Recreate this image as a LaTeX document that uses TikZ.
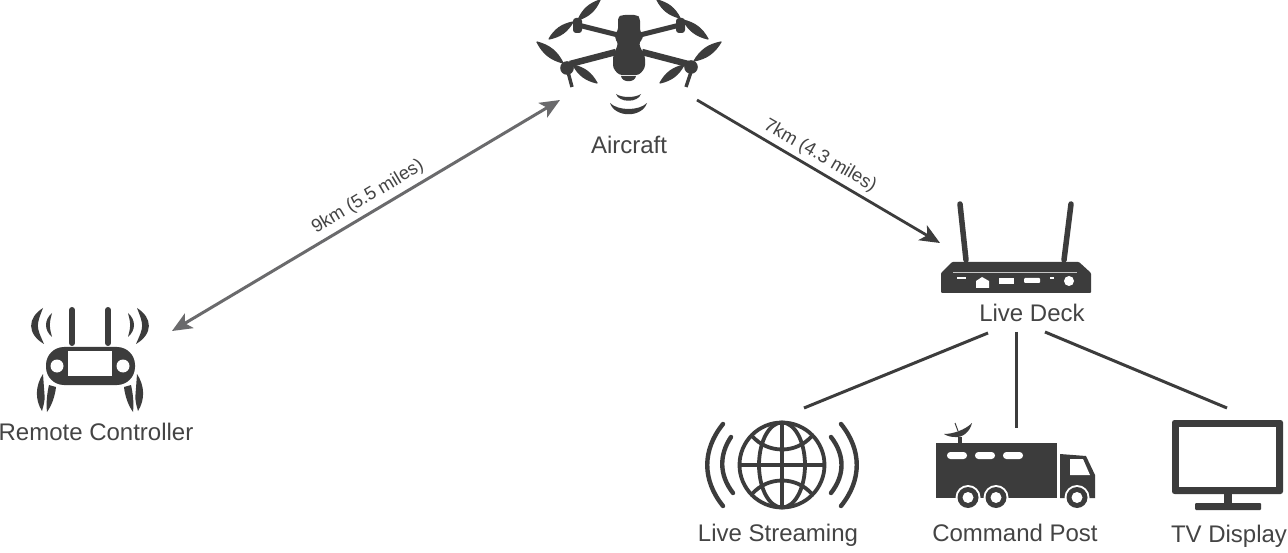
\documentclass[tikz,border=0pt]{standalone}
\usepackage{fontspec}
\setmainfont{Liberation Sans}
\usetikzlibrary{arrows.meta}
\definecolor{ink}{HTML}{3C3C3C}
\definecolor{txt}{HTML}{444444}
\definecolor{linkgray}{HTML}{6A6A6C}
\newcommand{\blade}[2]{\fill[ink,line join=round] (#1) to[bend left=24] (#2) to[bend left=24] (#1);\draw[ink,line width=1.2pt,line join=round] (#1) to[bend left=24] (#2) to[bend left=24] (#1);}
\newcommand{\crescent}[5]{\fill[ink] (#1) .. controls (#3) and (#4) .. (#2) .. controls (#5) .. (#1);}
\tikzset{
  lab/.style={font=\fontsize{24}{27}\selectfont,text=txt,inner sep=0pt,anchor=base},
  linklab/.style={font=\fontsize{18.5}{21}\selectfont,text=txt,inner sep=0pt,anchor=center},
  wire/.style={ink,line width=3pt},
  twoway/.style={linkgray,line width=3pt,{Stealth[length=20pt,width=17pt,inset=5pt]}-{Stealth[length=20pt,width=17pt,inset=5pt]}},
  oneway/.style={ink,line width=2.8pt,-{Stealth[length=20pt,width=17pt,inset=5pt]}},
  wave/.style={ink,line width=4.4pt,line cap=round},
  globe/.style={ink,line width=3.8pt},
}
\begin{document}
\begin{tikzpicture}[x=1pt,y=-1pt]
\useasboundingbox (0,0) rectangle (1288,553);
\fill[white] (0,0) rectangle (1288,553);

% ---- connector ends
\coordinate (rcEnd) at (172,331);
\coordinate (acIn) at (560,100);
\coordinate (acOut) at (697,100);
\coordinate (ldIn) at (940,243);
\coordinate (ldA) at (988,333);
\coordinate (ldB) at (1016,332);
\coordinate (ldC) at (1045,332);
\coordinate (lsEnd) at (804,408);
\coordinate (cpEnd) at (1016,428);
\coordinate (tvEnd) at (1227,408);
\draw[twoway] (rcEnd) -- (acIn);
\draw[oneway] (acOut) -- (ldIn);
\draw[wire] (ldA) -- (lsEnd);
\draw[wire] (ldB) -- (cpEnd);
\draw[wire] (ldC) -- (tvEnd);

% ---- labels
\node[lab] (tAir) at (629,154) {Aircraft};
\node[lab] (tRc) at (96,440) {Remote Controller};
\node[lab] (tLd) at (1032,322) {Live Deck};
\node[lab] (tLs) at (778,541) {Live Streaming};
\node[lab] (tCp) at (1015,541) {Command Post};
\node[lab] (tTv) at (1229,542) {TV Display};
\node[linklab,rotate=30.8] (t9) at (368,197) {9km (5.5 miles)};
\node[linklab,rotate=-30] (t7) at (820,156) {7km (4.3 miles)};

% ---- aircraft
\draw[ink,line width=5pt] (578,25) -- (618,35) (680,25) -- (640,35);
\draw[ink,line width=6.5pt] (570,64) -- (616,52) (688,64) -- (642,52);
\fill[ink,rounded corners=3pt] (618,17) -- (622,15) -- (637,15) -- (640,18) -- (640,32) -- (643,34) -- (643,39) -- (639,42) -- (640,47) -- (645,56) -- (645,68) -- (639,75) -- (619,75) -- (613,68) -- (613,56) -- (617,47) -- (618,42) -- (615,39) -- (615,34) -- (618,31) -- cycle;
\fill[ink] (621,76) -- (636,76) .. controls (635,83) and (622,83) .. (621,76) -- cycle;
\fill[ink,rounded corners=3pt] (573,18) rectangle (582,33);
\fill[ink,rounded corners=3pt] (676,18) rectangle (685,33);
\fill[ink] (567,68) circle (6.8);
\fill[ink] (691,67) circle (6.8);
\draw[ink,line width=3.4pt] (568,72) -- (572,87) (691,72) -- (686,87);
\blade{578,20}{600,0}
\blade{573,22}{549,39}
\blade{680,18}{657,0}
\blade{683,20}{708,39}
\blade{563,63}{537,42}
\blade{573,65}{597,83}
\blade{694,61}{721,42}
\blade{684,65}{660,83}
\fill[ink] (616,94) .. controls (622,98) and (635,98) .. (641,94) .. controls (638,103) and (619,103) .. (616,94) -- cycle;
\fill[ink] (610,103) .. controls (618,111) and (639,111) .. (647,103) .. controls (642,118) and (615,118) .. (610,103) -- cycle;

% ---- remote controller
\fill[ink,rounded corners=18pt] (46,347) rectangle (135,385);
\fill[white] (68,351) rectangle (112,376);
\fill[white] (57,366) circle (6.5);
\fill[white] (123,366) circle (6.5);
\draw[ink,line width=6pt,line cap=round] (72,310) -- (72,343) (108,310) -- (108,343);
\crescent{43,308}{44,344}{27,318}{27,334}{36,326}
\crescent{52,313}{52,337}{44,320}{44,330}{49,325}
\crescent{137,308}{136,344}{153,318}{153,334}{144,326}
\crescent{128,313}{128,337}{136,320}{136,330}{131,325}
\fill[ink] (43,374) .. controls (35,386) and (35,400) .. (42,411) .. controls (45,400) .. (44,388) -- cycle;
\fill[ink] (49,385) -- (56,387) .. controls (55,396) and (52,405) .. (47,412) .. controls (46,403) and (47,394) .. (49,385) -- cycle;
\fill[ink] (137,374) .. controls (145,386) and (145,400) .. (138,411) .. controls (135,400) .. (136,388) -- cycle;
\fill[ink] (131,385) -- (124,387) .. controls (125,396) and (128,405) .. (133,412) .. controls (134,403) and (133,394) .. (131,385) -- cycle;

% ---- live deck
\draw[ink,line width=5.5pt,line cap=round] (960,204) -- (966,260);
\draw[ink,line width=5.5pt,line cap=round] (1071,204) -- (1064,260);
\fill[ink,rounded corners=1pt] (941,293) -- (941,273) -- (952,262) -- (1079,262) -- (1091,273) -- (1091,293) -- cycle;
\draw[white!70!ink,line width=0.8pt] (953,272) -- (1077,272);
\fill[white] (957,277) rectangle (966,279.5);
\fill[white] (976,288) -- (976,281) -- (982,277) -- (989,281) -- (989,288) -- cycle;
\fill[white] (999,278) rectangle (1014,284);
\fill[white,rounded corners=1pt] (1024,278) rectangle (1040,283);
\fill[white] (1050,277) rectangle (1054,279);
\fill[white] (1069,281) circle (5);

% ---- live streaming
\draw[globe] (782,465) circle (42.5);
\draw[globe] (782,465) ellipse (23 and 42.5);
\draw[globe] (782,422.5) -- (782,507.5) (739.5,465) -- (824.5,465);
\draw[globe] (752,436) .. controls (768,454) and (796,454) .. (812,436);
\draw[globe] (752,494) .. controls (768,476) and (796,476) .. (812,494);
\draw[wave] (731,437) .. controls (719,455) and (719,475) .. (733,493);
\draw[wave] (723,424) .. controls (702,450) and (702,480) .. (723,506);
\draw[wave] (831,437) .. controls (845,455) and (845,475) .. (831,493);
\draw[wave] (841,424) .. controls (862,450) and (862,480) .. (841,506);

% ---- command post truck
\fill[ink] (936,443) rectangle (1057,498);
\fill[ink] (1060,454) -- (1086,456) -- (1095,475) -- (1095,498) -- (1060,498) -- cycle;
\fill[white] (1070,459) -- (1083,459) -- (1090,475) -- (1070,475) -- cycle;
\foreach \wx in {947,975,1003}
  \fill[white,rounded corners=3.4pt] (\wx,452) rectangle ++(20,7);
\foreach \cx in {968,996,1077} {
  \fill[white] (\cx,497.5) circle (12.5);
  \fill[ink] (\cx,497.5) circle (10.5);
  \fill[white] (\cx,497.5) circle (5.5);
}
\fill[ink] (958,437) rectangle (962,443);
\fill[ink] (944,434) .. controls (953,434) and (965,430) .. (972,423) .. controls (970,432) and (962,438) .. (955,437) .. controls (951,437) and (947,436) .. (944,434) -- cycle;
\draw[ink,line width=1pt] (955,423) -- (958,431);

% ---- TV
\fill[ink,rounded corners=2.5pt] (1172,420) rectangle (1283,494);
\fill[white] (1179,427) rectangle (1276,487);
\fill[ink] (1224,494) rectangle (1232,504);
\fill[ink,rounded corners=1pt] (1195,503) rectangle (1261,510);
\end{tikzpicture}
\end{document}
